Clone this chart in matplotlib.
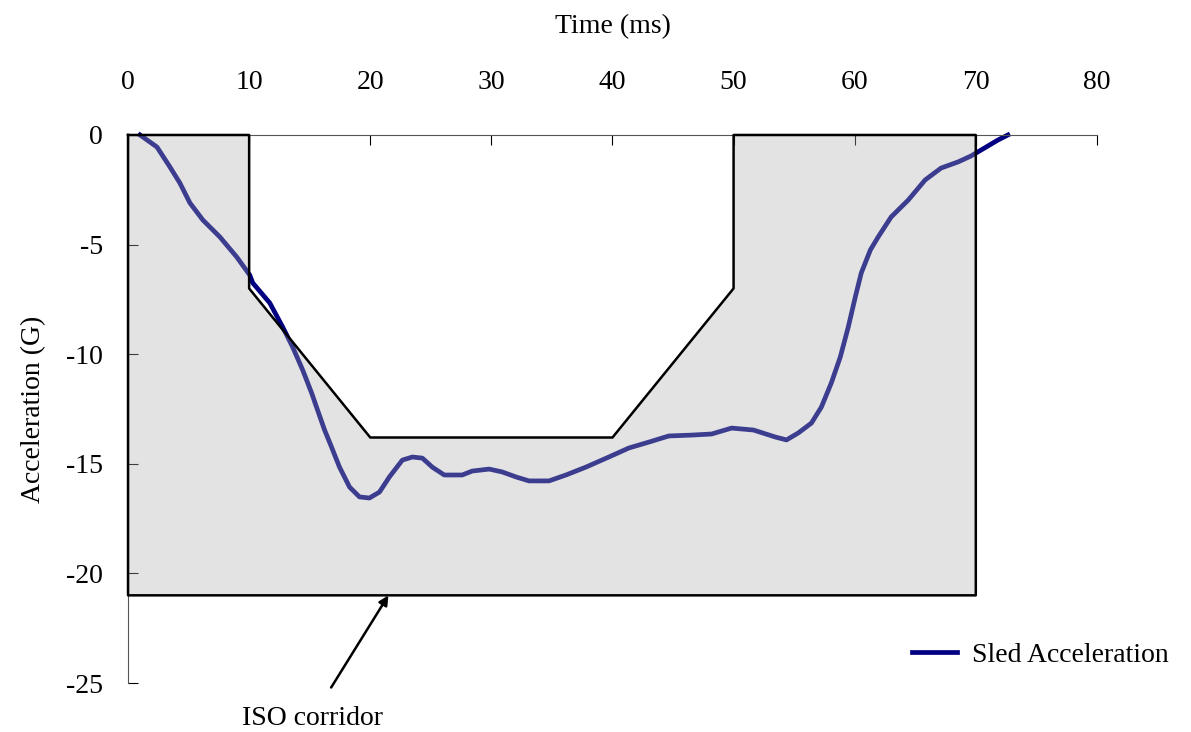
import matplotlib.pyplot as plt
import numpy as np

# sled pulse
time_ms = [0.99, 2.39, 3.46, 4.28, 5.11, 6.18, 7.58, 8.98, 10.05, 10.30, 11.70,
           12.77, 13.59, 14.42, 15.16, 15.65, 16.23, 16.80, 17.46, 18.29, 19.11,
           19.93, 20.76, 21.58, 22.65, 23.48, 24.30, 25.12, 26.11, 27.59, 28.42,
           29.82, 30.89, 32.04, 33.11, 34.76, 36.16, 37.81, 39.70, 41.35, 43.00,
           44.65, 46.54, 48.19, 49.84, 51.65, 53.46, 54.37, 55.35, 56.43, 57.25,
           58.07, 58.81, 59.47, 60.05, 60.54, 61.29, 61.94, 63.01, 64.42, 65.82,
           67.13, 68.53, 69.60, 71.83, 72.65]
accel_g = [0.0, -0.55, -1.46, -2.19, -3.10, -3.88, -4.65, -5.57, -6.39, -6.75,
           -7.66, -8.76, -9.67, -10.72, -11.77, -12.55, -13.46, -14.23, -15.15,
           -16.06, -16.51, -16.56, -16.29, -15.60, -14.83, -14.69, -14.74, -15.15,
           -15.51, -15.51, -15.33, -15.24, -15.37, -15.60, -15.78, -15.78, -15.51,
           -15.15, -14.69, -14.28, -14.01, -13.73, -13.69, -13.64, -13.37, -13.46,
           -13.78, -13.91, -13.59, -13.14, -12.41, -11.31, -10.13, -8.76, -7.39,
           -6.30, -5.25, -4.65, -3.74, -2.97, -2.05, -1.51, -1.23, -0.96, -0.23, 0.0]

# ISO corridor: outer box and inner (upper) boundary
outer_t = [0, 70, 70, 0]
outer_a = [0, 0, -21, -21]
inner_t = [10, 10, 20, 40, 50, 50]
inner_a = [0, -7, -13.8, -13.8, -7, 0]

plt.rcParams['font.family'] = ['Liberation Serif', 'DejaVu Serif']
plt.rcParams['font.size'] = 20
plt.rcParams['axes.unicode_minus'] = False

fig = plt.figure(figsize=(11.91, 7.32), dpi=100)
ax = fig.add_axes([0.1075, 0.0669, 0.8135, 0.7487])

ax.plot(time_ms, accel_g, color='#000080', lw=3.4, zorder=2, label='Sled Acceleration',
        solid_joinstyle='round', clip_on=False)

# corridor polygon (outer minus inner notch), drawn over the curve
poly_t = [outer_t[0]] + inner_t + outer_t[1:] + [outer_t[0]]
poly_a = [outer_a[0]] + inner_a + outer_a[1:] + [outer_a[0]]
ax.fill(poly_t, poly_a, facecolor='#b0b0b0', alpha=0.35, edgecolor='none', zorder=3)
ax.plot(poly_t, poly_a, color='black', lw=1.8, zorder=4, clip_on=False)

ax.set_xlim(0, 80)
ax.set_ylim(-25, 0)
ax.set_xticks(np.arange(0, 81, 10))
ax.set_yticks(np.arange(-25, 1, 5))
ax.xaxis.tick_top()
ax.xaxis.set_label_position('top')
ax.set_xlabel('Time (ms)', labelpad=26)
ax.set_ylabel('Acceleration (G)', labelpad=14)
ax.tick_params(axis='x', direction='in', length=7, pad=29)
ax.tick_params(axis='y', direction='in', length=7, pad=18)
ax.spines['bottom'].set_visible(False)
ax.spines['right'].set_visible(False)
for s in ('top', 'left'):
    ax.spines[s].set_color('#555555')

ax.annotate('ISO corridor', xy=(21.5, -21), xytext=(15.2, -26.6),
            ha='center', va='center', annotation_clip=False,
            arrowprops=dict(arrowstyle='-|>', color='black', lw=1.8,
                            shrinkB=0, shrinkA=13, mutation_scale=14))

fig.legend(loc='center left', bbox_to_anchor=(0.745, 0.105), frameon=False,
           handlelength=1.6, handletextpad=0.55)

fig.savefig('out.png', dpi=100)
